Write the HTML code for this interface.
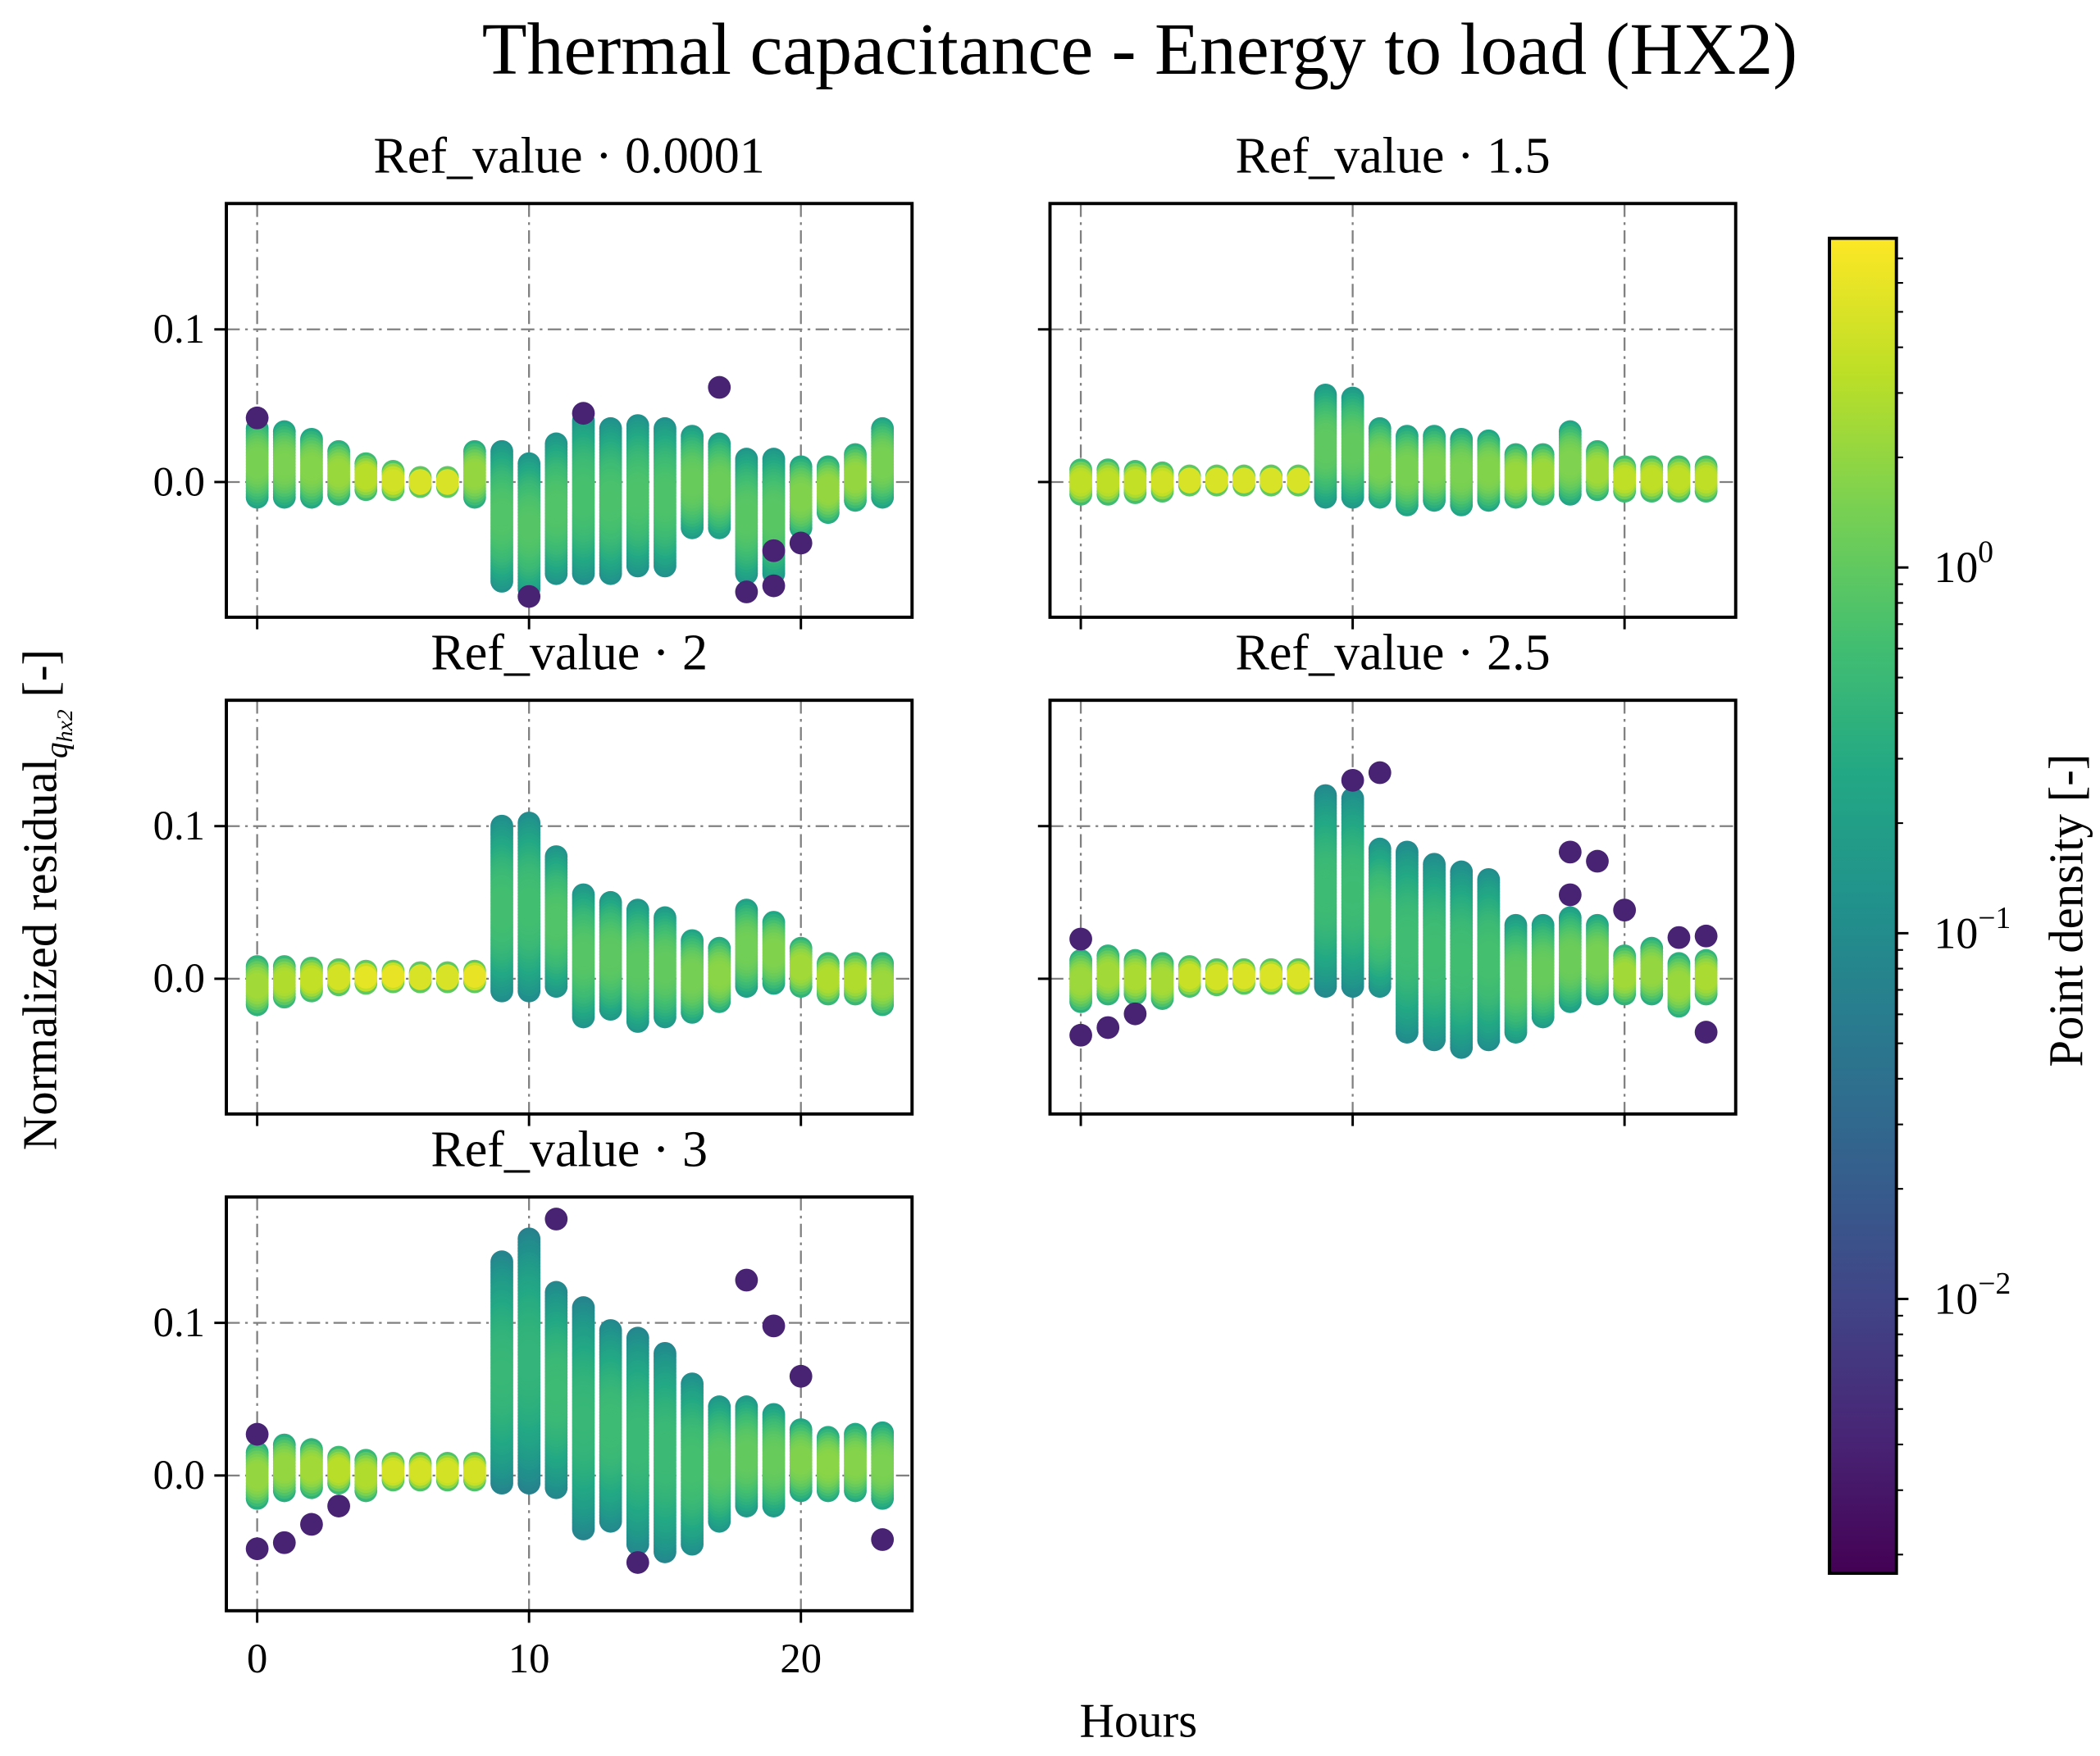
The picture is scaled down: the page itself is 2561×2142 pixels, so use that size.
<!DOCTYPE html>
<html><head><meta charset="utf-8"><style>
html,body{margin:0;padding:0;background:#fff}
svg{display:block}
text{font-family:"Liberation Serif","DejaVu Serif",serif;fill:#000}
</style></head><body>
<svg id="chart" xmlns="http://www.w3.org/2000/svg" width="2561" height="2142" viewBox="0 0 1568 1311.5">
<text x="851" y="55" font-size="55" text-anchor="middle">Thermal capacitance - Energy to load (HX2)</text>
<text transform="translate(42,672) rotate(-90)" font-size="36" text-anchor="middle">Normalized residual<tspan font-size="24" font-style="italic" dy="8">q</tspan><tspan font-size="17" font-style="italic" dy="4">hx2</tspan><tspan dy="-12"> [-]</tspan></text>
<text x="850" y="1297" font-size="36" text-anchor="middle">Hours</text>
<text transform="translate(1555,680) rotate(-90)" font-size="36" text-anchor="middle">Point density [-]</text>
<g id="plots"></g>
</svg>
<script>
// hours 0..23
const hours = [0,1,2,3,4,5,6,7,8,9,10,11,12,13,14,15,16,17,18,19,20,21,22,23];
const panelTitles = ["Ref_value · 0.0001","Ref_value · 1.5","Ref_value · 2","Ref_value · 2.5","Ref_value · 3"];
const lo1 = [-0.01,-0.01,-0.01,-0.008,-0.005,-0.005,-0.003,-0.003,-0.01,-0.065,-0.07,-0.06,-0.06,-0.06,-0.055,-0.055,-0.03,-0.03,-0.06,-0.06,-0.03,-0.02,-0.012,-0.01];
const hi1 = [0.035,0.033,0.028,0.02,0.012,0.007,0.003,0.003,0.02,0.02,0.012,0.025,0.04,0.035,0.037,0.035,0.03,0.025,0.015,0.015,0.01,0.01,0.018,0.035];
const out1 = [[0,0.042],[10,-0.075],[12,0.045],[17,0.062],[18,-0.072],[19,-0.068],[19,-0.045],[20,-0.04]];
const lo2 = [-0.008,-0.008,-0.007,-0.006,-0.002,-0.002,-0.002,-0.002,-0.002,-0.01,-0.01,-0.01,-0.015,-0.012,-0.015,-0.012,-0.01,-0.008,-0.008,-0.005,-0.006,-0.006,-0.006,-0.006];
const hi2 = [0.008,0.008,0.007,0.006,0.004,0.004,0.004,0.004,0.004,0.057,0.055,0.035,0.03,0.03,0.028,0.027,0.018,0.018,0.033,0.02,0.01,0.01,0.01,0.01];
const out2 = [];
const lo3 = [-0.017,-0.012,-0.008,-0.004,-0.003,-0.002,-0.002,-0.002,-0.002,-0.008,-0.008,-0.005,-0.025,-0.02,-0.028,-0.025,-0.022,-0.015,-0.005,-0.003,-0.005,-0.01,-0.01,-0.017];
const hi3 = [0.008,0.008,0.007,0.006,0.005,0.005,0.004,0.004,0.005,0.1,0.102,0.08,0.055,0.05,0.045,0.04,0.025,0.02,0.045,0.037,0.02,0.01,0.01,0.01];
const out3 = [];
const lo4 = [-0.015,-0.01,-0.01,-0.013,-0.005,-0.004,-0.003,-0.003,-0.003,-0.005,-0.005,-0.005,-0.035,-0.04,-0.045,-0.04,-0.035,-0.025,-0.015,-0.01,-0.01,-0.01,-0.018,-0.01];
const hi4 = [0.012,0.015,0.012,0.01,0.008,0.006,0.006,0.006,0.006,0.12,0.118,0.085,0.083,0.075,0.07,0.065,0.035,0.035,0.04,0.035,0.015,0.02,0.01,0.012];
const out4 = [[0,-0.037],[0,0.026],[1,-0.032],[2,-0.023],[10,0.13],[11,0.135],[18,0.055],[18,0.083],[19,0.077],[20,0.045],[22,0.027],[23,-0.035],[23,0.028]];
const lo5 = [-0.015,-0.01,-0.008,-0.005,-0.01,-0.003,-0.003,-0.003,-0.003,-0.005,-0.005,-0.008,-0.035,-0.03,-0.045,-0.05,-0.045,-0.03,-0.02,-0.02,-0.01,-0.01,-0.01,-0.015];
const hi5 = [0.015,0.02,0.017,0.012,0.01,0.008,0.008,0.008,0.008,0.14,0.155,0.12,0.11,0.095,0.09,0.08,0.06,0.045,0.045,0.04,0.03,0.025,0.027,0.028];
const out5 = [[0,-0.048],[0,0.027],[1,-0.044],[2,-0.032],[3,-0.02],[11,0.168],[14,-0.057],[18,0.128],[19,0.098],[20,0.065],[23,-0.042]];
const xTicks = [0,10,20];
const yTicks = [0.0,0.1];
const yTickLabels = ["0.0","0.1"];
const cbTicks = [-2,-1,0];

const NS="http://www.w3.org/2000/svg";
const root=document.getElementById('plots');
function mk(tag,attrs,parent){const e=document.createElementNS(NS,tag);for(const k in attrs)e.setAttribute(k,attrs[k]);(parent||root).appendChild(e);return e;}
const VIR=[[68,1,84],[72,36,117],[65,68,135],[53,95,141],[42,120,142],[33,145,140],[34,168,132],[68,191,112],[122,209,81],[189,223,38],[253,231,37]];
function viridis(t){t=Math.max(0,Math.min(1,t));const f=t*(VIR.length-1);const i=Math.min(VIR.length-2,Math.floor(f));const u=f-i;const a=VIR[i],b=VIR[i+1];return `rgb(${Math.round(a[0]+(b[0]-a[0])*u)},${Math.round(a[1]+(b[1]-a[1])*u)},${Math.round(a[2]+(b[2]-a[2])*u)})`;}
const LMIN=-2.75,LMAX=0.9;
function dcol(d){return viridis((Math.log10(d)-LMIN)/(LMAX-LMIN));}

const panels=[
 {x0:169,y0:152,lo:lo1,hi:hi1,out:out1,ylab:true,xlab:false},
 {x0:784,y0:152,lo:lo2,hi:hi2,out:out2,ylab:false,xlab:false},
 {x0:169,y0:523,lo:lo3,hi:hi3,out:out3,ylab:true,xlab:false},
 {x0:784,y0:523,lo:lo4,hi:hi4,out:out4,ylab:false,xlab:false},
 {x0:169,y0:894,lo:lo5,hi:hi5,out:out5,ylab:true,xlab:true}];
const W=512,H=309,R=8.5;
panels.forEach((p,pi)=>{
  const g=mk('g',{});
  
  
  const X=h=>p.x0+23+h*20.3;
  const Y=v=>p.y0+208-v*1140;
  const cid='clip'+pi;
  const cp=mk('clipPath',{id:cid},g);mk('rect',{x:p.x0,y:p.y0,width:W,height:H},cp);
  xTicks.forEach(t=>{const l=mk('line',{x1:X(t),x2:X(t),y1:p.y0,y2:p.y0+H,stroke:'#808080','stroke-width':1.4,'stroke-dasharray':'10 4 2 4'},g);});
  yTicks.forEach(t=>{const l=mk('line',{x1:p.x0,x2:p.x0+W,y1:Y(t),y2:Y(t),stroke:'#808080','stroke-width':1.4,'stroke-dasharray':'10 4 2 4'},g);});
  const dg=mk('g',{'clip-path':`url(#${cid})`},g);
  hours.forEach((h,i)=>{
    const lo=p.lo[i],hi=p.hi[i],sp=hi-lo,c=(lo+hi)/2;
    const peak=Math.min(6,0.07/(sp+0.004));
    const n=Math.max(3,Math.ceil(sp/0.002));
    const pts=[];
    for(let k=0;k<=n;k++){const v=lo+sp*k/n;const z=(v-c)/(sp/2+1e-9);pts.push([v,peak*Math.exp(-1.8*z*z)]);}
    pts.sort((a,b)=>a[1]-b[1]);
    pts.forEach(([v,d])=>{const e=mk('circle',{cx:X(h),cy:Y(v),r:R,fill:dcol(d)},dg);});
  });
  p.out.forEach(([h,v])=>{const e=mk('circle',{cx:X(h),cy:Y(v),r:R,fill:dcol(0.004)},dg);});
  const fr=mk('rect',{x:p.x0,y:p.y0,width:W,height:H,fill:'none',stroke:'#000','stroke-width':2.4},g);
  
  xTicks.forEach(t=>{mk('line',{x1:X(t),x2:X(t),y1:p.y0+H,y2:p.y0+H+9,stroke:'#000','stroke-width':1.8},g);
    if(p.xlab){const tx=mk('text',{x:X(t),y:p.y0+H+46,'font-size':31,'text-anchor':'middle'},g);tx.textContent=t;}});
  yTicks.forEach((t,j)=>{mk('line',{x1:p.x0-9,x2:p.x0,y1:Y(t),y2:Y(t),stroke:'#000','stroke-width':1.8},g);
    if(p.ylab){const tx=mk('text',{x:p.x0-16,y:Y(t)+10,'font-size':31,'text-anchor':'end'},g);tx.textContent=yTickLabels[j];}});
  const tt=mk('text',{x:p.x0+W/2,y:p.y0-23,'font-size':38,'text-anchor':'middle'},g);
  tt.textContent=panelTitles[pi];
  
  
});
const cb=mk('g',{});


const defs=mk('defs',{},cb);
const lg=mk('linearGradient',{id:'vir',x1:0,y1:1,x2:0,y2:0},defs);
VIR.forEach((c,i)=>mk('stop',{offset:i/(VIR.length-1),'stop-color':`rgb(${c[0]},${c[1]},${c[2]})`},lg));
const cx0=1366,cy0=178,cw=50,ch=997;
mk('rect',{x:cx0,y:cy0,width:cw,height:ch,fill:'url(#vir)',stroke:'#000','stroke-width':2.4},cb);
const CY=l=>cy0+ch-(l-LMIN)/(LMAX-LMIN)*ch;
for(let d=-3;d<=0;d++){for(let m=2;m<=9;m++){const l=d+Math.log10(m);if(l>LMIN&&l<LMAX)mk('line',{x1:cx0+cw,x2:cx0+cw+5,y1:CY(l),y2:CY(l),stroke:'#000','stroke-width':1.3},cb);}}
cbTicks.forEach(t=>{mk('line',{x1:cx0+cw,x2:cx0+cw+9,y1:CY(t),y2:CY(t),stroke:'#000','stroke-width':1.8},cb);
  const tx=mk('text',{x:cx0+cw+28,y:CY(t)+11,'font-size':33},cb);
  tx.innerHTML='10<tspan dy="-15" font-size="23">'+(t<0?'−'+(-t):t)+'</tspan>';
  
  });
</script>
</body></html>
